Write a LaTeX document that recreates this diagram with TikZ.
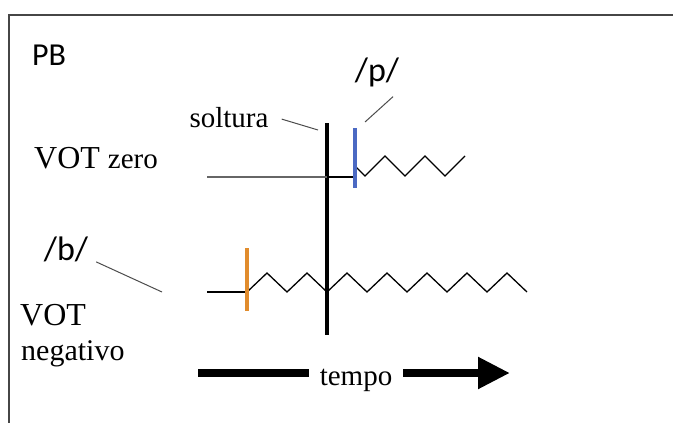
\documentclass[tikz,border=0pt]{standalone}
\usepackage{fontspec}
\setmainfont{Liberation Serif}
\newfontfamily\calibfont{Carlito}
\usetikzlibrary{arrows.meta,positioning}
\definecolor{relblue}{RGB}{75,105,195}
\definecolor{onsetorange}{RGB}{225,140,45}
\definecolor{framegray}{RGB}{70,70,70}

\begin{document}
\begin{tikzpicture}[x=1pt, y=-1pt,
    serlabel/.style={font=\fontsize{29}{30}\selectfont, inner sep=0pt},
    phonlabel/.style={font=\calibfont\fontsize{34}{36}\selectfont, inner sep=0pt},
    leader/.style={draw=black!70, line width=1pt},
    wave/.style={line width=1.3pt, line join=miter}
]
    \useasboundingbox (0,0) rectangle (673,423);

    % Frame
    \draw[framegray, line width=2.5pt] (9,423) -- (9,15) -- (673,15);

    % Labels
    \node[font=\calibfont\fontsize{32}{34}\selectfont, inner sep=0pt, anchor=base west] (pb) at (32,65) {PB};
    \node[phonlabel, anchor=base] (plabel) at (377,81) {/p/};
    \node[phonlabel, anchor=base] (blabel) at (66,260) {/b/};
    \node[serlabel, anchor=base] (soltura) at (229,127) {soltura};
    \node[serlabel, anchor=base west] (votzero) at (34,168)
        {\fontsize{32}{34}\selectfont VOT \fontsize{29}{30}\selectfont zero};
    \node[serlabel, anchor=base west, font=\fontsize{32}{34}\selectfont] (votneg) at (20,325) {VOT};
    \node[serlabel, anchor=base west, font=\fontsize{30}{32}\selectfont] (negativo) at (21,360) {negativo};

    % Release bar
    \coordinate (reltop) at (327,123);
    \coordinate (relbot) at (327,335);
    \draw[line width=4.5pt] (reltop) -- (relbot);

    % VOT zero line
    \draw[gray!80!black, line width=2.3pt] (207,177) -- (327,177);
    \draw[line width=2pt] (327,177) -- (355,177);
    \draw[wave] (355,166) -- (365,176)
        foreach \k in {1,2} { -- ++(20,-20) -- ++(20,20) } -- ++(20,-20);
    \draw[relblue, line width=3.5pt] (355,128) -- (355,188);

    % VOT negative line
    \draw[line width=2.5pt] (207,292) -- (247,292);
    \draw[wave] (247,292)
        foreach \k in {0,...,6} { -- ++(20,-19) -- ++(20,19) };
    \draw[onsetorange, line width=3.5pt] (247,248) -- (247,311);

    % Leaders
    \coordinate (solend) at (318,130);
    \coordinate (pend) at (365,122);
    \coordinate (bend) at (162,292);
    \draw[leader] (soltura.east) ++(13,2) -- (solend);
    \draw[leader] (plabel.south) ++(16,10) -- (pend);
    \draw[leader] (blabel.east) ++(8,13) -- (bend);

    % Time arrow
    \node[serlabel, anchor=base, inner xsep=11pt] (tempo) at (356,385) {tempo};
    \coordinate (tstart) at (198,373);
    \coordinate (tend) at (510,373);
    \draw[line width=8pt] (tstart) -- (tstart -| tempo.west);
    \draw[line width=8pt, -{Triangle[length=32pt, width=30pt]}] (tend -| tempo.east) -- (tend);
\end{tikzpicture}
\end{document}
